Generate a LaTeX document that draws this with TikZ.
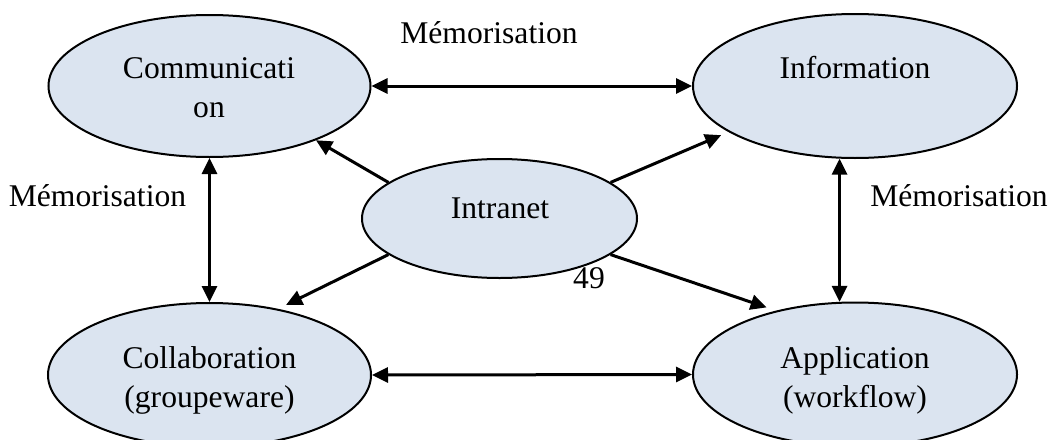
\documentclass[tikz,border=0pt]{standalone}
\usepackage{fontspec}
\setmainfont{Liberation Serif}
\usetikzlibrary{shapes.geometric,arrows.meta}
\definecolor{ellfill}{HTML}{DBE4F0}
\begin{document}
\begin{tikzpicture}[x=1pt,y=-1pt,
  bubble/.style={ellipse, draw=black, line width=2pt, fill=ellfill, inner sep=0pt},
  lbl/.style={anchor=base, inner sep=0pt, font=\fontsize{31.6}{39}\selectfont},
  link/.style={line width=3pt, {Triangle[length=16pt,width=15pt]}-{Triangle[length=16pt,width=15pt]}},
  arr/.style={line width=3pt, -{Triangle[length=16pt,width=15pt]}}]
\useasboundingbox (0,0) rectangle (1051,439);
% ellipses
\node[bubble, minimum width=322pt, minimum height=142pt] (com) at (209.5,86) {};
\node[bubble, minimum width=324pt, minimum height=144pt] (inf) at (855,86) {};
\node[bubble, minimum width=275pt, minimum height=119pt] (int) at (499.5,218.5) {};
\node[bubble, minimum width=323pt, minimum height=144pt] (col) at (209.5,375) {};
\node[bubble, minimum width=324pt, minimum height=144pt] (app) at (855,374.5) {};
% connectors
\draw[link] (com.east) -- (inf.west);
\draw[link] (col.east) -- (app.west);
\draw[link] (com.south) -- (col.north);
\draw[link] (inf.258) -- (app.102);
\draw[arr] (int.162) -- (com.333);
\draw[arr, shorten >=8pt] (int.18) -- (inf.200);
\draw[arr, shorten >=9pt] (int.198) -- (col.44);
\draw[arr, shorten >=10pt] (int.342) -- (app.141);
% texts
\node[lbl] (comT) at (209,78.3) {\begin{tabular}[t]{@{}c@{}}Communicati\\on\end{tabular}};
\node[lbl] (infT) at (855,78.3) {Information};
\node[lbl] (intT) at (500,218.3) {Intranet};
\node[lbl] (colT) at (209.5,368.3) {\begin{tabular}[t]{@{}c@{}}Collaboration\\(groupeware)\end{tabular}};
\node[lbl] (appT) at (855,368.3) {\begin{tabular}[t]{@{}c@{}}Application\\(workflow)\end{tabular}};
\node[lbl] (memTop) at (489,43) {Mémorisation};
\node[lbl] (memLeft) at (97.5,206.7) {Mémorisation};
\node[lbl] (memRight) at (959,206.7) {Mémorisation};
\node[lbl] (page) at (589,288) {49};
\end{tikzpicture}
\end{document}
